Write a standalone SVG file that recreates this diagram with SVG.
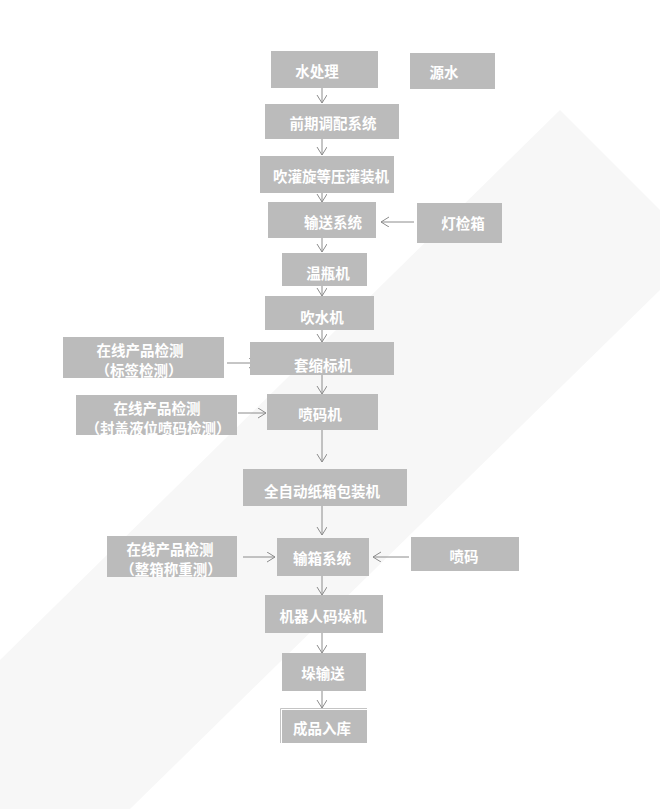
<svg xmlns="http://www.w3.org/2000/svg" width="660" height="809" viewBox="0 0 660 809">
<style>
.n{fill:#bbbbbb;}
.t{font-family:"Noto Sans CJK SC","Noto Sans",sans-serif;font-size:14.5px;font-weight:bold;fill:#ffffff;text-anchor:middle;dominant-baseline:central;}
.c{stroke:#8c8c8c;stroke-width:1;fill:none;}
</style>
<defs>
<marker id="a" markerWidth="12" markerHeight="12" refX="8" refY="5" orient="auto" markerUnits="userSpaceOnUse">
<path d="M0,0 L8,5 L0,10" fill="none" stroke="#8c8c8c" stroke-width="1"/>
</marker>
</defs>
<rect width="660" height="809" fill="#ffffff"/>
<g id="watermark">
<polygon points="0,660 560,110 660,210 660,290 130,809 0,809" fill="#f7f7f7"/>
</g>
<g id="connectors" class="c">
<line x1="322" y1="88" x2="322" y2="103" marker-end="url(#a)"/>
<line x1="322" y1="139" x2="322" y2="155" marker-end="url(#a)"/>
<line x1="322" y1="193" x2="322" y2="202" marker-end="url(#a)"/>
<line x1="322" y1="238" x2="322" y2="252" marker-end="url(#a)"/>
<line x1="322" y1="286" x2="322" y2="296" marker-end="url(#a)"/>
<line x1="322" y1="330" x2="322" y2="342" marker-end="url(#a)"/>
<line x1="322" y1="375" x2="322" y2="394" marker-end="url(#a)"/>
<line x1="322" y1="430" x2="322" y2="462" marker-end="url(#a)"/>
<line x1="322" y1="506" x2="322" y2="535" marker-end="url(#a)"/>
<line x1="322" y1="576" x2="322" y2="595" marker-end="url(#a)"/>
<line x1="322" y1="633" x2="322" y2="653" marker-end="url(#a)"/>
<line x1="322" y1="691" x2="322" y2="708" marker-end="url(#a)"/>
<line x1="414" y1="222" x2="381" y2="222" marker-end="url(#a)"/>
<line x1="227" y1="363" x2="257" y2="363" marker-end="url(#a)"/>
<line x1="238" y1="413" x2="266" y2="413" marker-end="url(#a)"/>
<line x1="243" y1="557" x2="275" y2="557" marker-end="url(#a)"/>
<line x1="409" y1="557" x2="373" y2="557" marker-end="url(#a)"/>
</g>
<g id="n1"><rect class="n" x="271" y="51" width="107" height="37"/><text class="t" x="317" y="70">水处理</text></g>
<g id="n2"><rect class="n" x="410" y="53" width="85" height="36"/><text class="t" x="444" y="71">源水</text></g>
<g id="n3"><rect class="n" x="265" y="104" width="134" height="35"/><text class="t" x="333" y="122">前期调配系统</text></g>
<g id="n4"><rect class="n" x="260" y="156" width="134" height="37"/><text class="t" x="331" y="175">吹灌旋等压灌装机</text></g>
<g id="n5"><rect class="n" x="268" y="202" width="108" height="36"/><text class="t" x="333" y="221">输送系统</text></g>
<g id="n6"><rect class="n" x="417" y="203" width="85" height="40"/><text class="t" x="463" y="222">灯检箱</text></g>
<g id="n7"><rect class="n" x="282" y="253" width="85" height="33"/><text class="t" x="328" y="272">温瓶机</text></g>
<g id="n8"><rect class="n" x="265" y="296" width="109" height="34"/><text class="t" x="322" y="316">吹水机</text></g>
<g id="n9"><rect class="n" x="250" y="342" width="144" height="33"/><text class="t" x="323" y="364">套缩标机</text></g>
<g id="n10"><rect class="n" x="63" y="337" width="161" height="41"/><text class="t" x="140" y="349">在线产品检测</text><text class="t" x="139" y="369">（标签检测）</text></g>
<g id="n11"><rect class="n" x="267" y="394" width="111" height="36"/><text class="t" x="320" y="413">喷码机</text></g>
<g id="n12"><rect class="n" x="76" y="395" width="161" height="40"/><text class="t" x="157" y="407">在线产品检测</text><text class="t" x="158" y="427">（封盖液位喷码检测）</text></g>
<g id="n13"><rect class="n" x="243" y="469" width="164" height="37"/><text class="t" x="322" y="490">全自动纸箱包装机</text></g>
<g id="n14"><rect class="n" x="277" y="538" width="92" height="38"/><text class="t" x="322" y="557">输箱系统</text></g>
<g id="n15"><rect class="n" x="107" y="536" width="130" height="41"/><text class="t" x="170" y="548">在线产品检测</text><text class="t" x="171" y="568">（整箱称重测）</text></g>
<g id="n16"><rect class="n" x="411" y="537" width="108" height="34"/><text class="t" x="464" y="555">喷码</text></g>
<g id="n17"><rect class="n" x="265" y="595" width="118" height="38"/><text class="t" x="323" y="615">机器人码垛机</text></g>
<g id="n18"><rect class="n" x="282" y="653" width="84" height="38"/><text class="t" x="323" y="672">垛输送</text></g>
<g id="n19"><rect class="n" x="282" y="710" width="85" height="33"/><path d="M280.5,743 V708.5 H367" fill="none" stroke="#c4c4c4" stroke-width="1"/><text class="t" x="322" y="727">成品入库</text></g>
</svg>
